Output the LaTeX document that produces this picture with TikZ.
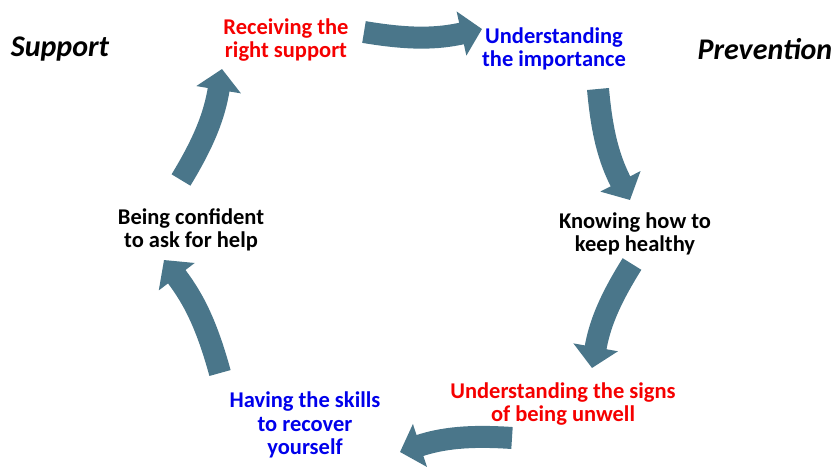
\documentclass[tikz,border=0pt]{standalone}
\usepackage{fontspec}
\setmainfont{Carlito}
\usetikzlibrary{arrows.meta}
\definecolor{cyclearrow}{RGB}{74,118,138}
\definecolor{stageblue}{RGB}{0,0,235}
\definecolor{stagered}{RGB}{245,0,0}

\begin{document}
\begin{tikzpicture}
		[x=1pt,y=-1pt,
		stage/.style={align=center,inner sep=0pt,font=\fontsize{22.5}{23.5}\selectfont\bfseries},
		side/.style={inner sep=0pt,font=\fontsize{30}{34}\selectfont\bfseries\itshape},
		cyc/.style={draw=cyclearrow,line width=22pt,-{Triangle[width=44pt,length=21pt]}}]
		\useasboundingbox (0,0) rectangle (836,475);

		\node [side] (support) at (60,49) {Support};
		\node [side] (prevention) at (765,49) {Prevention};

		\node [stage,text=stagered] (receive) at (286,40) {Receiving the\\right support};
		\node [stage,text=stageblue] (importance) at (554,49) {Understanding\\the importance};
		\node [stage] (healthy) at (635,234) {Knowing how to\\keep healthy};
		\node [stage,text=stagered] (signs) at (563,404) {Understanding the signs\\of being unwell};
		\node [stage,text=stageblue] (skills) at (305,425) {Having the skills\\to recover\\yourself};
		\node [stage] (confident) at (191,230) {Being confident\\to ask for help};

		\coordinate (t1) at (364,32);  \coordinate (h1) at (482,29);
		\coordinate (t2) at (598,89);  \coordinate (h2) at (630,200);
		\coordinate (t3) at (632,264); \coordinate (h3) at (592,368);
		\coordinate (t4) at (512,438); \coordinate (h4) at (400,452);
		\coordinate (t5) at (220,373); \coordinate (h5) at (164,260);
		\coordinate (t6) at (181,180); \coordinate (h6) at (222,69);

		\draw [cyc] (t1) to [bend right=11] (h1);
		\draw [cyc] (t2) to [bend right=11] (h2);
		\draw [cyc] (t3) to [bend right=11] (h3);
		\draw [cyc] (t4) to [bend right=11] (h4);
		\draw [cyc] (t5) to [bend right=11] (h5);
		\draw [cyc] (t6) to [bend right=11] (h6);

	\end{tikzpicture}
\end{document}
